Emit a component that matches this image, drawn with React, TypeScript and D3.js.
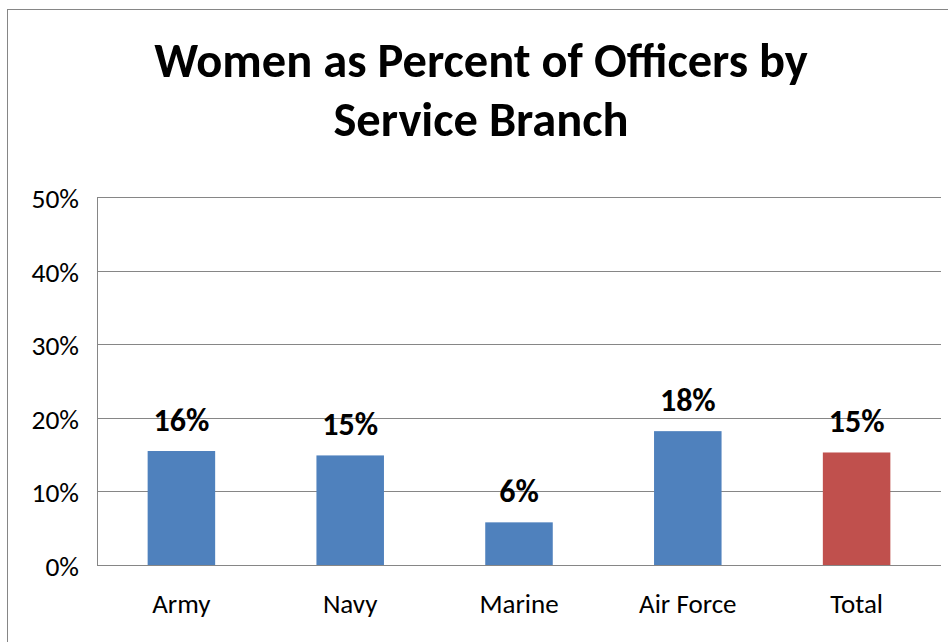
import React from "react";
import * as d3 from "d3";

const categories: string[] = ["Army", "Navy", "Marine", "Air Force", "Total"];
const values: number[] = [15.5, 14.9, 5.8, 18.2, 15.3];
const labels: string[] = ["16%", "15%", "6%", "18%", "15%"];
const colors: string[] = ["#4F81BD", "#4F81BD", "#4F81BD", "#4F81BD", "#C0504D"];
const yTicks: number[] = [0, 10, 20, 30, 40, 50];
const titleLines: string[] = ["Women as Percent of Officers by", "Service Branch"];

const W = 948;
const H = 642;
const FONT = "Carlito, 'Liberation Sans', Arial, sans-serif";

export default function App() {
  const left = 97;
  const right = 941;
  const top = 197.3;
  const bottom = 565;

  const x = d3.scaleBand<string>().domain(categories).range([left, right]).paddingInner(0.6).paddingOuter(0.3);
  const y = d3.scaleLinear().domain([0, 50]).range([bottom, top]);

  return (
    <svg width={W} height={H} style={{ position: "absolute", left: 0, top: 0, background: "#fff" }} fontFamily={FONT}>
      <rect x={7.5} y={9.5} width={W + 10} height={H + 10} fill="#fff" stroke="#868686" strokeWidth={1} />
      {titleLines.map((t, i) => (
        <text key={t} x={481} y={i === 0 ? 77 : 136} textAnchor="middle" fontSize={48.5} fontWeight="bold" fill="#000">
          {t}
        </text>
      ))}
      {yTicks.map((t) => (
        <g key={t}>
          <line x1={left} x2={right} y1={Math.round(y(t)) + 0.5} y2={Math.round(y(t)) + 0.5} stroke="#868686" strokeWidth={1} />
          <text x={79} y={y(t) + 11} textAnchor="end" fontSize={27.5} fill="#000">
            {t + "%"}
          </text>
        </g>
      ))}
      <line x1={left + 0.5} x2={left + 0.5} y1={top} y2={bottom} stroke="#868686" strokeWidth={1} />
      {categories.map((c, i) => (
        <g key={c}>
          <rect x={x(c)} y={y(values[i])} width={x.bandwidth()} height={y(0) - y(values[i])} fill={colors[i]} />
          <text x={(x(c) as number) + x.bandwidth() / 2} y={y(values[i]) - 20} textAnchor="middle" fontSize={32} fontWeight="bold" fill="#000">
            {labels[i]}
          </text>
          <text x={(x(c) as number) + x.bandwidth() / 2} y={613} textAnchor="middle" fontSize={27} fill="#000">
            {c}
          </text>
        </g>
      ))}
    </svg>
  );
}
